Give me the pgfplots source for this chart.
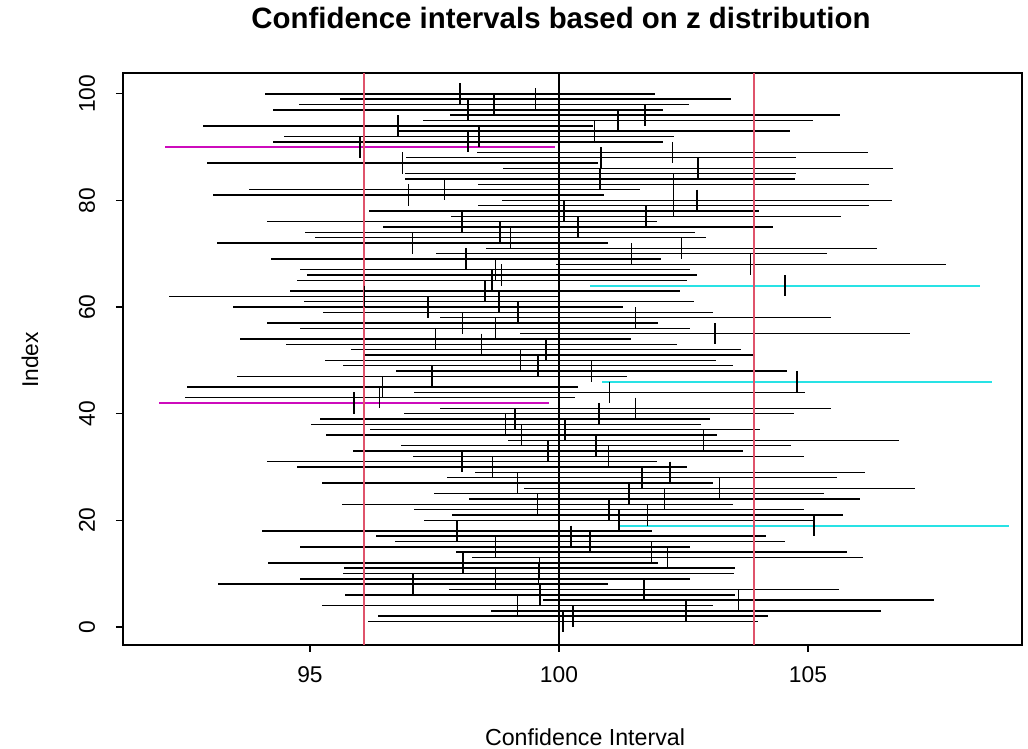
\documentclass[border=0pt]{standalone}
\usepackage{pgfplots}
\pgfplotsset{compat=1.18}
\usepackage{pgfplotstable}
\usepackage{fontspec}
\setmainfont{Liberation Sans}
\definecolor{rred}{HTML}{DF536B}
\definecolor{rcyan}{HTML}{28E2E5}
\definecolor{rmag}{HTML}{CD0BBC}
\pgfplotstableread{
i m
1 100.08
2 100.28
3 102.55
4 99.17
5 103.60
6 99.62
7 101.71
8 97.07
9 98.72
10 99.59
11 99.61
12 98.07
13 102.18
14 101.86
15 98.72
16 100.62
17 100.24
18 97.95
20 101.20
21 101.78
22 101.00
23 99.57
24 102.12
25 101.41
26 103.22
27 99.17
28 101.67
29 102.23
30 98.66
31 98.05
32 100.99
33 99.78
34 100.74
35 102.90
36 99.25
37 100.12
38 98.93
39 99.12
40 100.80
41 101.54
43 96.40
44 101.01
45 96.46
47 97.45
48 100.65
49 99.58
50 99.23
51 100.01
52 99.74
53 98.44
54 97.52
55 103.13
56 98.72
57 98.06
58 101.54
59 99.18
60 97.37
61 98.80
62 96.09
63 98.51
65 98.65
66 98.85
67 98.72
68 103.85
69 98.13
70 101.46
71 102.46
72 97.06
73 99.03
74 98.82
75 100.38
76 98.05
77 101.75
78 100.10
79 102.30
80 102.77
81 96.98
82 97.70
83 102.30
84 100.82
85 100.83
86 102.79
87 96.86
88 100.84
89 102.28
91 98.17
92 98.39
93 100.71
94 96.77
95 101.18
96 101.73
97 98.17
98 98.69
99 99.53
100 98.01
}\blackci
\pgfplotstableread{
i m
42 95.88
90 96.00
}\magci
\pgfplotstableread{
i m
19 105.12
46 104.78
64 104.54
}\cyanci
\begin{document}
\begin{tikzpicture}
\useasboundingbox (-61.5pt,-52pt) rectangle (452.5pt,322.5pt);
\begin{axis}[
  at={(0,0)}, anchor=south west,
  scale only axis, width=449.5pt, height=286pt,
  xmin=91.245, xmax=109.297, ymin=-3.4, ymax=103.9,
  xtick={95,100,105}, ytick={0,20,40,60,80,100},
  xtick pos=lower, ytick pos=left,
  minor tick num=0,
  tick align=outside, major tick length=3.5pt,
  axis line style={line width=0.7pt},
  tick style={line width=0.7pt, black},
  /pgf/number format/assume math mode=true,
  tick label style={font=\fontsize{11.4}{13}\selectfont},
  xticklabel style={anchor=center, yshift=-11.5pt},
  yticklabel style={rotate=90, anchor=center, yshift=14.5pt},
  clip=true,
]
\addplot[only marks, mark=|, mark size=5.33pt, mark options={black, line width=0.75pt},
  error bars/.cd, x dir=both, x fixed=3.92, error mark=none,
  error bar style={line width=0.75pt, black}] table[x=m, y=i] {\blackci};
\addplot[only marks, mark=|, mark size=5.33pt, mark options={black, line width=0.75pt},
  error bars/.cd, x dir=both, x fixed=3.92, error mark=none,
  error bar style={line width=0.9pt, rmag}] table[x=m, y=i] {\magci};
\addplot[only marks, mark=|, mark size=5.33pt, mark options={black, line width=0.75pt},
  error bars/.cd, x dir=both, x fixed=3.92, error mark=none,
  error bar style={line width=1pt, rcyan}] table[x=m, y=i] {\cyanci};
\addplot[rred, line width=0.75pt] coordinates {(96.08,-3.4) (96.08,103.9)};
\addplot[rred, line width=0.75pt] coordinates {(103.92,-3.4) (103.92,103.9)};
\addplot[black, line width=0.75pt] coordinates {(100,-3.4) (100,103.9)};
\end{axis}
\node[font=\bfseries\fontsize{14.7}{17}\selectfont] at (219pt,313.5pt) {Confidence intervals based on z distribution};
\node[font=\fontsize{11.6}{13}\selectfont] at (231pt,-46pt) {Confidence Interval};
\node[font=\fontsize{11.4}{13}\selectfont, rotate=90] at (-46.5pt,142.5pt) {Index};
\end{tikzpicture}
\end{document}
